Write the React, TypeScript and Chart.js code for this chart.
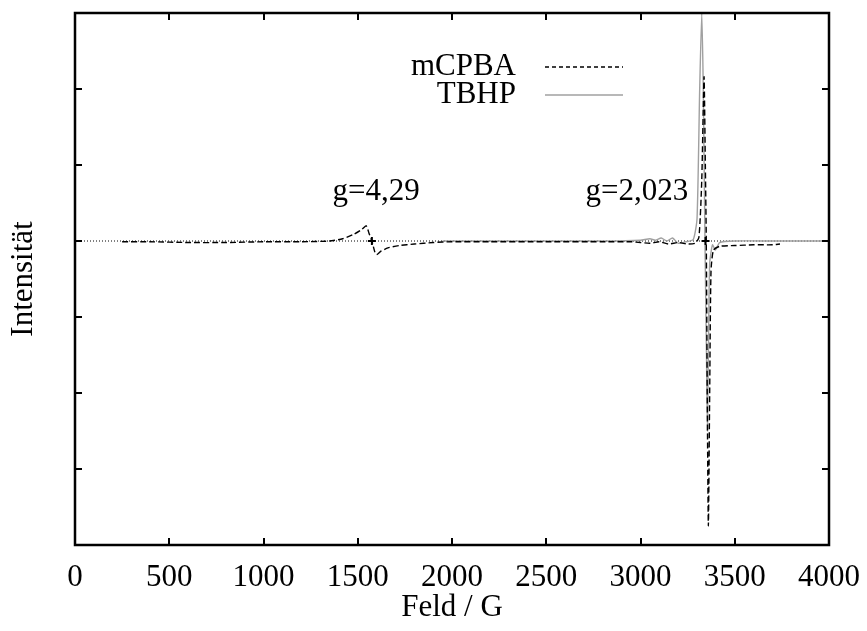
import React, { useEffect, useRef } from "react";
import { Chart, registerables } from "chart.js";

Chart.register(...registerables);

// ---- data ----
const mcpbaField = [250, 400, 600, 800, 1000, 1200, 1350, 1420, 1480, 1520, 1545, 1560, 1575, 1590, 1600, 1620, 1660, 1720, 1800, 1900, 2000, 2200, 2500, 2800, 2950, 3000, 3050, 3100, 3150, 3200, 3250, 3290, 3310, 3325, 3337, 3344, 3349, 3354, 3360, 3367, 3374, 3387, 3420, 3500, 3600, 3700, 3740];
const mcpbaIntensity = [-0.01, -0.01, -0.02, -0.02, -0.01, -0.01, 0.0, 0.03, 0.09, 0.15, 0.2, 0.1, 0.0, -0.14, -0.18, -0.14, -0.09, -0.06, -0.04, -0.02, -0.01, -0.01, -0.01, -0.01, -0.01, -0.02, -0.03, -0.01, -0.04, -0.02, -0.04, -0.03, 0.05, 0.8, 2.16, 1.0, 0.0, -2.0, -3.75, -2.0, -0.4, -0.12, -0.07, -0.06, -0.05, -0.05, -0.04];

const tbhpField = [1950, 2200, 2500, 2800, 3000, 3050, 3080, 3110, 3140, 3170, 3200, 3240, 3280, 3300, 3314, 3325, 3333, 3342, 3350, 3355, 3360, 3367, 3382, 3397, 3420, 3500, 3700, 4000];
const tbhpIntensity = [0.0, 0.0, 0.0, 0.0, 0.01, 0.03, 0.01, 0.04, 0.0, 0.04, -0.03, -0.01, 0.02, 0.3, 2.0, 3.0, 2.0, 0.0, -1.5, -2.5, -1.5, -0.3, -0.05, -0.12, -0.02, 0.0, 0.0, 0.0];

const markerField = [1575, 3345];
const markerIntensity = [0, 0];

const annotationTexts = ["g=4,29", "g=2,023"];
const annotationField = [1597, 2981];
const annotationIntensity = [0.645, 0.645];

const seriesNames = ["mCPBA", "TBHP"];
const xTickValues = [0, 500, 1000, 1500, 2000, 2500, 3000, 3500, 4000];
const yTickValues = [-4, -3, -2, -1, 0, 1, 2, 3];

const FONT = "'Liberation Serif', 'Times New Roman', serif";
const FONT_SIZE = 31;
const MCPBA_COLOR = "#000000";
const TBHP_COLOR = "#a0a0a0";
const MCPBA_DASH = [6, 3];

const framePlugin = {
  id: "framePlugin",
  afterDraw(chart: any) {
    const { ctx, chartArea: a, scales } = chart;
    const x = scales.x;
    const y = scales.y;
    ctx.save();
    // inward ticks
    ctx.strokeStyle = "#000";
    ctx.lineWidth = 2;
    const tl = 7;
    ctx.beginPath();
    for (const v of xTickValues) {
      const px = Math.round(x.getPixelForValue(v));
      ctx.moveTo(px, a.bottom);
      ctx.lineTo(px, a.bottom - tl);
      ctx.moveTo(px, a.top);
      ctx.lineTo(px, a.top + tl);
    }
    for (const v of yTickValues) {
      const py = Math.round(y.getPixelForValue(v));
      ctx.moveTo(a.left, py);
      ctx.lineTo(a.left + tl, py);
      ctx.moveTo(a.right, py);
      ctx.lineTo(a.right - tl, py);
    }
    ctx.stroke();
    // frame
    ctx.lineWidth = 2.5;
    ctx.strokeRect(a.left, a.top, a.right - a.left, a.bottom - a.top);

    // annotations
    ctx.fillStyle = "#000";
    ctx.font = `${FONT_SIZE}px ${FONT}`;
    ctx.textAlign = "center";
    ctx.textBaseline = "middle";
    annotationTexts.forEach((t, i) => {
      ctx.fillText(t, x.getPixelForValue(annotationField[i]), y.getPixelForValue(annotationIntensity[i]));
    });

    // legend
    const rows = [
      { name: seriesNames[0], color: MCPBA_COLOR, dash: [4, 3], width: 1.3 },
      { name: seriesNames[1], color: TBHP_COLOR, dash: [], width: 1.3 },
    ];
    const textRight = a.left + 441;
    const lineStart = a.left + 470;
    const lineEnd = a.left + 548;
    rows.forEach((r, i) => {
      const cy = a.top + 54 + i * 28;
      ctx.textAlign = "right";
      ctx.fillStyle = "#000";
      ctx.fillText(r.name, textRight, cy);
      ctx.beginPath();
      ctx.setLineDash(r.dash);
      ctx.strokeStyle = r.color;
      ctx.lineWidth = r.width;
      ctx.moveTo(lineStart, cy);
      ctx.lineTo(lineEnd, cy);
      ctx.stroke();
    });
    ctx.setLineDash([]);
    ctx.restore();
  },
};

function toPoints(xs: number[], ys: number[]) {
  return xs.map((v, i) => ({ x: v, y: ys[i] }));
}

export default function App() {
  const ref = useRef<HTMLCanvasElement | null>(null);
  useEffect(() => {
    document.body.style.margin = "0";
    if (!ref.current) return;
    const chart = new Chart(ref.current, {
      type: "scatter",
      data: {
        datasets: [
          {
            label: "zero",
            data: toPoints([xTickValues[0], xTickValues[xTickValues.length - 1]], [0, 0]),
            showLine: true,
            borderColor: "#000",
            borderWidth: 1,
            borderDash: [1, 2],
            pointRadius: 0,
            order: 4,
          },
          {
            label: seriesNames[1],
            data: toPoints(tbhpField, tbhpIntensity),
            showLine: true,
            borderColor: TBHP_COLOR,
            borderWidth: 1.4,
            pointRadius: 0,
            tension: 0.2,
            order: 3,
          },
          {
            label: seriesNames[0],
            data: toPoints(mcpbaField, mcpbaIntensity),
            showLine: true,
            borderColor: MCPBA_COLOR,
            borderWidth: 1.4,
            borderDash: MCPBA_DASH,
            pointRadius: 0,
            tension: 0.2,
            order: 2,
          },
          {
            label: "markers",
            data: toPoints(markerField, markerIntensity),
            showLine: false,
            pointStyle: "cross",
            pointRadius: 4,
            pointBorderWidth: 2,
            borderColor: "#000",
            backgroundColor: "#000",
            order: 1,
          },
        ],
      },
      options: {
        animation: false,
        responsive: true,
        maintainAspectRatio: false,
        layout: { padding: { top: 13, right: 38, left: 0, bottom: 0 } },
        plugins: { legend: { display: false }, tooltip: { enabled: false } },
        scales: {
          x: {
            type: "linear",
            min: 0,
            max: 4000,
            afterBuildTicks: (s: any) => {
              s.ticks = xTickValues.map((v) => ({ value: v }));
            },
            afterFit: (s: any) => {
              s.height = 86;
              s.paddingLeft = 0;
              s.paddingRight = 0;
            },
            grid: { display: false, drawTicks: false },
            border: { display: false },
            ticks: {
              color: "#000",
              font: { family: FONT, size: FONT_SIZE },
              padding: 14,
              maxRotation: 0,
              autoSkip: false,
              callback: (v: any) => String(v),
            },
            title: {
              display: true,
              text: "Feld / G",
              color: "#000",
              font: { family: FONT, size: FONT_SIZE },
              padding: { top: 0, bottom: 5 },
            },
          },
          y: {
            type: "linear",
            min: -4,
            max: 3,
            afterBuildTicks: (s: any) => {
              s.ticks = yTickValues.map((v) => ({ value: v }));
            },
            afterFit: (s: any) => {
              s.width = 75;
              s.paddingTop = 0;
              s.paddingBottom = 0;
            },
            grid: { display: false, drawTicks: false },
            border: { display: false },
            ticks: { display: false },
            title: {
              display: true,
              text: "Intensität",
              color: "#000",
              font: { family: FONT, size: FONT_SIZE },
              padding: { top: 5, bottom: 0 },
            },
          },
        },
      },
      plugins: [framePlugin],
    });
    return () => chart.destroy();
  }, []);
  return (
    <div style={{ width: 867, height: 631, position: "relative", background: "#fff" }}>
      <canvas ref={ref} />
    </div>
  );
}
